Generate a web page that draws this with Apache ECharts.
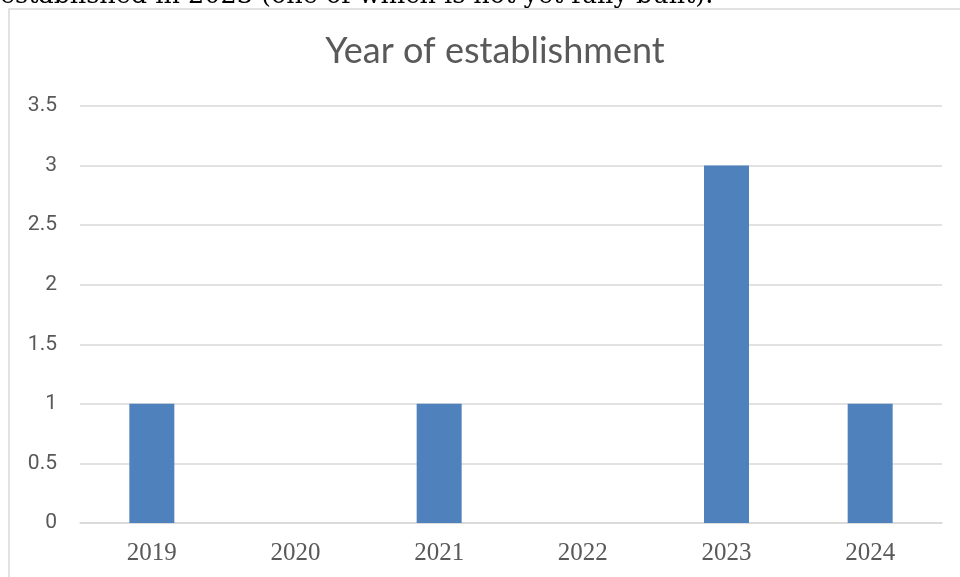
<!DOCTYPE html>
<html>
<head>
<meta charset="utf-8">
<title>Year of establishment</title>
<script src="https://cdn.jsdelivr.net/npm/echarts@6/dist/echarts.min.js"></script>
<style>
  html, body { margin: 0; padding: 0; background: #ffffff; }
  #chart { width: 960px; height: 577px; }
</style>
</head>
<body>
<div id="chart"></div>
<script>
// Establishment years and how many were founded in each
const years = ['2019', '2020', '2021', '2022', '2023', '2024'];
const counts = [1, 0, 1, 0, 3, 1];
const yTicks = [0, 0.5, 1, 1.5, 2, 2.5, 3, 3.5];

const captionText = 'established in 2023 (one of which is not yet fully built).';
const chartTitle = 'Year of establishment';

const chart = echarts.init(document.getElementById('chart'), null, { renderer: 'canvas' });

const gridColor = '#d9d9d9';
const labelColor = '#595959';

chart.setOption({
  animation: false,
  backgroundColor: '#ffffff',
  title: {
    text: chartTitle,
    left: 490,
    top: 28,
    textAlign: 'center',
    textStyle: {
      fontFamily: 'Lato',
      fontWeight: 'normal',
      fontSize: 36,
      color: labelColor
    }
  },
  graphic: [
    {
      // frame around the chart area
      type: 'rect',
      silent: true,
      shape: { x: 9, y: 9, width: 980, height: 600 },
      style: { fill: 'none', stroke: gridColor, lineWidth: 1.5 }
    },
    {
      // trailing line of the paragraph above the chart
      type: 'text',
      silent: true,
      z: -1,
      style: {
        text: captionText,
        x: 0,
        y: 9,
        fill: '#000000',
        font: '25.5px "DejaVu Serif"',
        verticalAlign: 'bottom'
      }
    }
  ],
  grid: {
    left: 80,
    right: 18,
    top: 106,
    bottom: 54,
    containLabel: false
  },
  xAxis: {
    type: 'category',
    data: years,
    axisLine: { show: true, lineStyle: { color: gridColor, width: 1.5 } },
    axisTick: { show: false },
    axisLabel: {
      color: labelColor,
      fontFamily: 'Liberation Serif',
      fontSize: 25,
      margin: 18
    }
  },
  yAxis: {
    type: 'value',
    min: yTicks[0],
    max: yTicks[yTicks.length - 1],
    interval: 0.5,
    axisLine: { show: false },
    axisTick: { show: false },
    splitLine: { show: true, lineStyle: { color: gridColor, width: 1.5 } },
    axisLabel: {
      color: labelColor,
      fontFamily: 'Roboto',
      fontSize: 21,
      margin: 23
    }
  },
  series: [
    {
      type: 'bar',
      data: counts,
      barWidth: 45,
      itemStyle: { color: '#4f81bd' }
    }
  ]
});
</script>
</body>
</html>
